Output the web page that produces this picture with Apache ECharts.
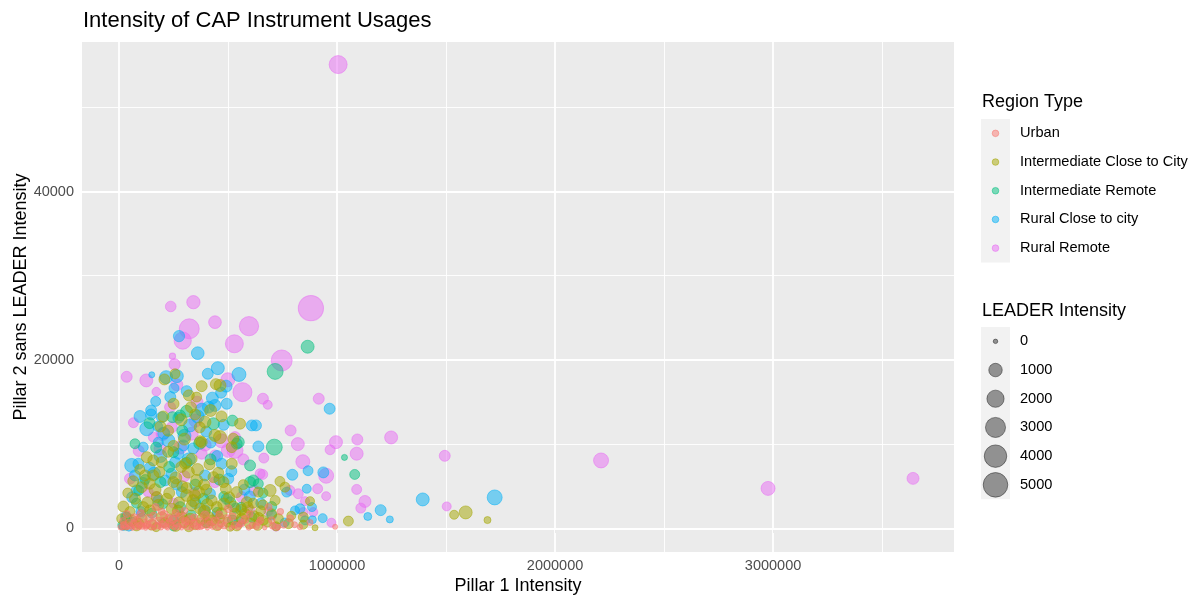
<!DOCTYPE html>
<html>
<head>
<meta charset="utf-8">
<title>Intensity of CAP Instrument Usages</title>
<script src="https://cdn.jsdelivr.net/npm/echarts@6/dist/echarts.min.js"></script>
<style>
  html, body { margin: 0; padding: 0; background: #ffffff; }
  #chart { width: 1197px; height: 599px; }
</style>
</head>
<body>
<div id="chart"></div>
<script>
// Region types and their colours (ggplot hue palette)
const regionNames = ['Urban', 'Intermediate Close to City', 'Intermediate Remote', 'Rural Close to city', 'Rural Remote'];
const regionColors = ['#F8766D', '#A3A500', '#00BF7D', '#00B0F6', '#E76BF3'];

// Each point: [Pillar 1 intensity, Pillar 2 sans LEADER intensity, LEADER intensity]
const urban = [
  [8000,150,20],[15000,60,0],[22000,420,60],[30000,200,10],[38000,90,0],[45000,650,120],[52000,300,40],
  [60000,30,0],[68000,520,90],[75000,180,20],[83000,950,150],[91000,80,0],[99000,380,60],[106000,240,30],
  [114000,700,110],[122000,40,0],[130000,460,70],[138000,1200,160],[146000,160,20],[153000,600,90],
  [161000,50,0],[168000,2520,90],[176000,330,40],[184000,880,140],[192000,120,10],[199000,500,80],
  [207000,1650,150],[215000,260,30],[223000,60,0],[231000,740,100],[239000,350,50],[247000,1050,150],
  [255000,100,10],[263000,560,80],[271000,230,30],[279000,1320,170],[287000,70,0],[296000,430,60],
  [305000,850,120],[314000,180,20],[323000,1000,250],[332000,40,0],[342000,620,90],[352000,290,40],
  [362000,140,10],[372000,780,110],[383000,350,50],[394000,1550,240],[405000,60,0],[417000,480,70],
  [430000,220,30],[442000,900,150],[455000,120,10],[468000,560,80],[482000,300,40],[494000,1150,160],
  [501000,2340,150],[515000,80,0],[530000,420,60],[546000,180,20],[562000,650,90],[578000,1070,150],
  [595000,110,10],[612000,380,50],[630000,220,30],[648000,950,80],[668000,90,0],[686000,2530,80],
  [705000,300,40],[728000,130,10],[755000,420,60],[785000,1190,80],[805000,440,30],[830000,160,10],
  [876000,710,30],[991000,200,5],
  [18000,900,60],[35000,1700,90],[70000,1300,120],[100000,1800,90],[125000,300,20],[158000,1500,100],
  [195000,2000,80],[228000,1250,120],[260000,1800,100],[300000,2100,60],[345000,1300,90],[375000,180,10],
  [410000,900,100],[460000,1650,80],[520000,1400,120],[555000,500,30],[600000,1700,60],[640000,700,30],
  [700000,1000,60],[740000,2000,40]
];

const intermediateClose = [
  [208000,17690,520],[257000,18360,370],[379000,16890,520],[444000,17130,520],[463000,16970,690],
  [356000,15590,370],[420000,14000,690],[250000,14800,520],[320000,15800,520],[470000,13300,520],
  [203000,13290,520],[349000,13530,520],[555000,12430,520],[394000,12620,690],[190000,12100,520],
  [440000,11040,690],[463000,10840,890],[372000,10360,520],[300000,10600,690],[379000,10240,520],
  [524000,10650,520],[517000,9650,520],[250000,9800,520],[127000,8460,520],[157000,8070,520],
  [196000,7870,520],[303000,7680,520],[333000,8270,520],[517000,7680,520],[360000,7000,690],
  [119000,6290,520],[157000,6290,520],[318000,6690,690],[433000,6090,520],[249000,5500,520],
  [356000,5700,690],[479000,5500,520],[290000,5000,520],[104000,4900,520],[400000,4600,520],
  [230000,4200,520],[540000,4310,520],[738000,5580,370],[693000,4510,690],[761000,4900,370],
  [639000,4310,370],[173000,3720,520],[73000,3520,520],[219000,3520,520],[310000,3920,690],
  [349000,3920,520],[425000,3320,520],[586000,3120,520],[716000,3320,370],[876000,3240,250],
  [130000,3100,520],[480000,2900,690],[180000,2800,520],[111000,2530,520],[333000,2730,520],
  [448000,2530,520],[242000,2340,520],[372000,2340,520],[142000,2140,520],[270000,2100,520],
  [390000,2000,690],[470000,1800,520],[532000,1740,520],[578000,1740,520],[700000,1740,370],
  [620000,1500,370],[196000,1340,520],[288000,1340,520],[410000,1340,520],[845000,1340,370],
  [12000,1150,370],[104000,1150,520],[326000,1150,520],[563000,1150,520],[731000,1150,370],
  [58000,950,520],[425000,950,520],[662000,950,370],[300000,800,690],[500000,750,370],
  [210000,700,370],[400000,650,370],[90000,600,370],[600000,600,520],[777000,560,370],
  [350000,500,520],[150000,450,520],[450000,400,520],[845000,440,250],[636000,360,370],
  [30000,350,250],[260000,300,520],[540000,300,370],[899000,80,30],[1052000,870,370],
  [1537000,1620,250],[1590000,1900,890],[1690000,990,80],
  [170000,150,250],[240000,1000,520],[320000,200,370],[380000,1100,520],[460000,1200,370],
  [510000,200,250],[560000,2200,520],[650000,2100,370],[680000,700,250],[720000,250,250],
  [790000,1500,250],[50000,2000,370],[80000,300,370],
  [20000,2600,520],[40000,4200,370],[65000,5600,520],[95000,7000,370],[140000,5300,520],
  [165000,4600,690],[185000,6700,520],[225000,9100,520],[260000,6000,690],[275000,3100,520],
  [285000,7300,520],[310000,4800,520],[340000,3300,690],[365000,4300,690],[390000,5200,520],
  [405000,2800,690],[415000,7600,520],[455000,6600,520],[490000,4700,520],[505000,3700,520],
  [525000,2600,520],[570000,5200,370],[590000,2500,520],[615000,3000,370],[640000,1300,370],
  [660000,2800,370],[225000,11600,520],[285000,12900,690],[330000,14400,520],[370000,12000,520]
];

const intermediateRemote = [
  [865000,21570,890],[716000,18640,1630],[280000,13410,520],[245000,13210,520],[433000,12430,690],
  [547000,10240,690],[540000,10050,520],[712000,9650,1630],[73000,10050,370],[170000,9600,520],
  [249000,9060,520],[1034000,8430,30],[420000,8200,520],[601000,7480,520],[230000,7300,520],
  [1081000,6410,370],[120000,5800,370],[616000,5700,520],[601000,5500,520],[639000,5300,370],
  [350000,5200,520],[387000,3520,520],[510000,3100,520],[80000,3000,370],[200000,2900,370],
  [700000,2600,370],[280000,2530,520],[560000,2500,370],[450000,1900,370],[150000,1800,370],
  [330000,1600,370],[35000,1340,370],[610000,1300,370],[60000,800,250],[15000,400,250],
  [290000,11600,520],[400000,700,370],[250000,300,370],[520000,1000,370],
  [90000,4500,370],[190000,5500,520],[310000,7800,520],[370000,10100,690],[460000,5800,520],
  [480000,3800,370],[660000,4200,370],[140000,12500,520],[310000,13900,690],[520000,12800,520]
];

const ruralClose = [
  [275000,22830,570],[361000,20810,830],[150000,18240,30],[216000,17960,890],[265000,18080,890],
  [252000,16650,370],[168000,15080,370],[407000,18360,520],[453000,19030,890],[550000,18280,1110],
  [491000,16890,690],[468000,16110,520],[428000,15470,690],[494000,14800,520],[440000,14600,690],
  [410000,14400,690],[147000,14000,520],[380000,14100,890],[966000,14210,520],[96000,13290,690],
  [147000,13530,520],[196000,13210,520],[272000,13140,520],[127000,11830,1110],[177000,12110,370],
  [326000,12230,890],[609000,12230,520],[628000,12230,520],[400000,11500,520],[226000,10450,890],
  [180000,10240,370],[295000,9850,520],[639000,9730,520],[111000,9650,370],[272000,8870,520],
  [320000,8200,890],[58000,7480,1110],[89000,7680,520],[257000,7870,520],[471000,7680,520],
  [867000,6850,370],[937000,6650,520],[160000,6500,890],[795000,6370,520],[73000,6290,520],
  [394000,6290,520],[501000,5900,520],[211000,5700,520],[861000,4710,250],[81000,4510,520],
  [769000,4310,370],[288000,4310,520],[417000,4120,520],[600000,3800,520],[1723000,3680,1360],
  [494000,3520,520],[1393000,3440,890],[180000,3300,520],[350000,3000,520],[885000,2530,250],
  [830000,2340,370],[1200000,2170,520],[394000,2140,520],[807000,2140,250],[100000,2000,370],
  [700000,1600,370],[1141000,1420,150],[934000,1220,250],[1242000,1070,80],[887000,1030,150],
  [250000,1000,370],[853000,950,250],[550000,800,370],[760000,700,250],[20000,300,250],
  [45000,150,150],
  [30000,1400,370],[60000,3700,520],[110000,5400,520],[140000,7200,520],[190000,8600,890],
  [205000,11300,690],[240000,6500,520],[265000,5200,520],[300000,11000,890],[340000,9500,520],
  [360000,13300,890],[420000,10200,520],[450000,8600,520],[480000,12300,520],[515000,6800,520],
  [535000,2400,370],[575000,4600,520],[650000,3000,370],[235000,15600,520],[310000,16300,520]
];

const ruralRemote = [
  [1005000,55070,2250],[880000,26150,5300],[341000,26860,960],[237000,26350,470],[596000,24010,2700],
  [440000,24490,830],[322000,23700,2970],[292000,22300,2020],[529000,21920,2250],[245000,20450,40],
  [746000,19940,3360],[255000,19470,570],[35000,18000,520],[499000,17650,1110],[125000,17570,890],
  [265000,17060,690],[171000,16230,220],[566000,16180,2600],[660000,15400,520],[916000,15400,520],
  [358000,14990,690],[682000,14680,250],[234000,14400,520],[350000,12800,890],[66000,12550,370],
  [242000,12020,520],[787000,11630,520],[333000,11240,890],[157000,10840,370],[532000,10840,520],
  [1248000,10800,890],[1093000,10560,520],[995000,10240,890],[820000,10010,890],[188000,9460,690],
  [968000,9340,370],[532000,9260,1630],[501000,9260,1110],[379000,8870,520],[1090000,8870,890],
  [440000,8670,520],[1494000,8620,520],[664000,8350,370],[2211000,8070,1360],[843000,7920,1110],
  [647000,6490,370],[659000,6410,370],[950000,6250,1360],[300000,6200,520],[3642000,5940,690],
  [440000,5500,520],[2977000,4750,1110],[911000,4710,370],[1090000,4630,370],[784000,4510,370],
  [134000,4310,370],[822000,4120,370],[950000,3830,250],[170000,3800,370],[563000,3720,520],
  [853000,3240,250],[1128000,3200,690],[250000,3000,370],[1503000,2610,250],[1109000,2410,370],
  [600000,2200,370],[685000,2020,250],[845000,1940,250],[891000,1940,250],[100000,1700,250],
  [450000,1500,370],[200000,700,250],[974000,680,250],[720000,150,150],
  [50000,5900,520],[90000,9200,520],[200000,11200,890],[280000,9600,890],[395000,9900,690],
  [470000,10400,1110],[345000,4200,520],[280000,1500,370],[620000,4500,520],[570000,8200,520]
];

// Axis ticks, gridlines and size-legend breaks
const xTicks = [0, 1000000, 2000000, 3000000];
const xMinor = [500000, 1500000, 2500000, 3500000];
const yTicks = [0, 20000, 40000];
const yMinor = [10000, 30000, 50000];
const sizeBreaks = [0, 1000, 2000, 3000, 4000, 5000];

const seriesData = [urban, intermediateClose, intermediateRemote, ruralClose, ruralRemote];

const FONT = '"Liberation Sans", Arial, Helvetica, sans-serif';
const POINT_ALPHA = 0.5;

// Area-proportional bubble diameter in pixels
const sizeAt = v => 4.5 + 9 * Math.sqrt(Math.max(v, 0) / 1000);

const chart = echarts.init(document.getElementById('chart'), null, { renderer: 'canvas' });

// draw order: pink, blue, green, olive, red on top
const drawOrder = [4, 3, 2, 1, 0];
const scatterSeries = drawOrder.map(i => ({
  type: 'scatter',
  name: regionNames[i],
  data: seriesData[i],
  z: 3,
  symbol: 'circle',
  symbolSize: val => sizeAt(val[2]),
  itemStyle: {
    color: regionColors[i],
    borderColor: regionColors[i],
    borderWidth: 1,
    opacity: POINT_ALPHA
  },
  emphasis: { disabled: true },
  silent: true
}));

// White panel gridlines, placed from the tick arrays
const gridSeries = {
  type: 'line',
  name: 'panel-grid',
  data: [],
  z: 1,
  silent: true,
  markLine: {
    z: 1,
    silent: true,
    symbol: ['none', 'none'],
    label: { show: false },
    animation: false,
    data: [
      ...xMinor.map(v => ({ xAxis: v, lineStyle: { color: '#ffffff', width: 0.9, type: 'solid' } })),
      ...yMinor.map(v => ({ yAxis: v, lineStyle: { color: '#ffffff', width: 0.9, type: 'solid' } })),
      ...xTicks.map(v => ({ xAxis: v, lineStyle: { color: '#ffffff', width: 1.8, type: 'solid' } })),
      ...yTicks.map(v => ({ yAxis: v, lineStyle: { color: '#ffffff', width: 1.8, type: 'solid' } }))
    ]
  }
};

// Legends (colour key and size key)
const LEG_X = 981, KEY_W = 29, KEY_H = 28.7;
const legendGraphics = [];

const regTop = 119;
legendGraphics.push({
  type: 'text', x: 982, y: 102,
  style: { text: 'Region Type', font: '18px ' + FONT, fill: '#000000', align: 'left', verticalAlign: 'middle' }
});
legendGraphics.push({
  type: 'rect', shape: { x: LEG_X, y: regTop, width: KEY_W, height: KEY_H * regionNames.length },
  style: { fill: '#F2F2F2' }
});
regionNames.forEach((name, i) => {
  const cy = regTop + KEY_H / 2 + i * KEY_H;
  legendGraphics.push({
    type: 'circle', shape: { cx: LEG_X + KEY_W / 2, cy: cy, r: 3.3 },
    style: { fill: regionColors[i], stroke: regionColors[i], lineWidth: 1, opacity: POINT_ALPHA }
  });
  legendGraphics.push({
    type: 'text', x: 1020, y: cy,
    style: { text: name, font: '14.6px ' + FONT, fill: '#000000', align: 'left', verticalAlign: 'middle' }
  });
});

const sizeTop = 327;
legendGraphics.push({
  type: 'text', x: 982, y: 311,
  style: { text: 'LEADER Intensity', font: '18px ' + FONT, fill: '#000000', align: 'left', verticalAlign: 'middle' }
});
legendGraphics.push({
  type: 'rect', shape: { x: LEG_X, y: sizeTop, width: KEY_W, height: KEY_H * sizeBreaks.length },
  style: { fill: '#F2F2F2' }
});
sizeBreaks.forEach((v, i) => {
  const cy = sizeTop + KEY_H / 2 + i * KEY_H;
  legendGraphics.push({
    type: 'circle', shape: { cx: LEG_X + KEY_W / 2, cy: cy, r: sizeAt(v) / 2 },
    style: { fill: '#000000', stroke: '#000000', lineWidth: 1, opacity: 0.4 }
  });
  legendGraphics.push({
    type: 'text', x: 1020, y: cy,
    style: { text: String(v), font: '14.6px ' + FONT, fill: '#000000', align: 'left', verticalAlign: 'middle' }
  });
});

const option = {
  animation: false,
  backgroundColor: '#ffffff',
  textStyle: { fontFamily: FONT },
  title: {
    text: 'Intensity of CAP Instrument Usages',
    left: 83, top: 10, padding: 0,
    textStyle: { fontFamily: FONT, fontSize: 22, fontWeight: 'normal', color: '#000000' }
  },
  grid: {
    left: 82, right: 243, top: 42, bottom: 47,
    show: true, backgroundColor: '#EBEBEB', borderWidth: 0,
    containLabel: false,
    outerBoundsMode: 'none'
  },
  xAxis: {
    type: 'value',
    min: -170000, max: 3830000,
    name: 'Pillar 1 Intensity',
    nameLocation: 'middle', nameGap: 25,
    nameMoveOverlap: false,
    nameTextStyle: { fontFamily: FONT, fontSize: 18, color: '#000000' },
    axisLine: { show: false },
    splitLine: { show: false },
    axisTick: { show: true, length: 4.6, customValues: xTicks, lineStyle: { color: '#333333', width: 1 } },
    axisLabel: {
      customValues: xTicks, margin: 6, color: '#4D4D4D', fontSize: 14.5, fontFamily: FONT,
      formatter: v => String(v)
    }
  },
  yAxis: {
    type: 'value',
    min: -2800, max: 57750,
    name: 'Pillar 2 sans LEADER Intensity',
    nameLocation: 'middle', nameGap: 52,
    nameMoveOverlap: false,
    nameTextStyle: { fontFamily: FONT, fontSize: 18, color: '#000000' },
    axisLine: { show: false },
    splitLine: { show: false },
    axisTick: { show: true, length: 4.6, customValues: yTicks, lineStyle: { color: '#333333', width: 1 } },
    axisLabel: {
      customValues: yTicks, margin: 8, color: '#4D4D4D', fontSize: 14.5, fontFamily: FONT,
      formatter: v => String(v)
    }
  },
  graphic: legendGraphics,
  series: [gridSeries, ...scatterSeries]
};

chart.setOption(option);
</script>
</body>
</html>
